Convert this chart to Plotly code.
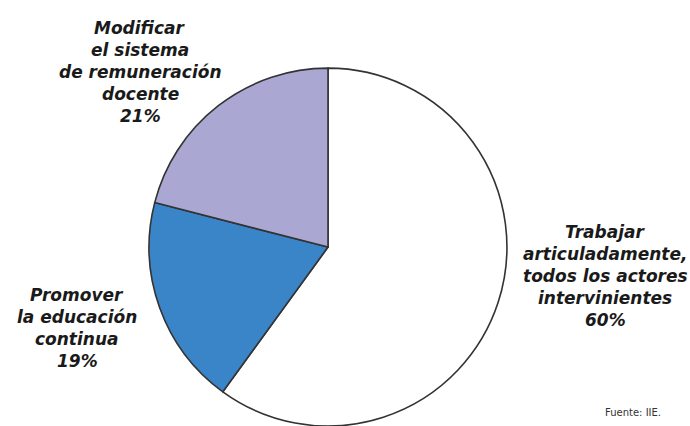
import plotly.graph_objects as go

# slice data, clockwise from 12 o'clock
labels = [
    "Trabajar articuladamente, todos los actores intervinientes",
    "Promover la educación continua",
    "Modificar el sistema de remuneración docente",
]
# how each label is broken into lines in the chart
label_lines = [
    ["Trabajar", "articuladamente,", "todos los actores", "intervinientes"],
    ["Promover", "la educación", "continua"],
    ["Modificar", "el sistema", "de remuneración", "docente"],
]
values = [60, 19, 21]
colors = ["#ffffff", "#3a84c8", "#aaa8d3"]

W, H = 690, 426

# centre x and first-line y of each label block, in pixels
label_pos = [(605, 232), (77, 295), (140, 28)]
LINE_H = 22

fig = go.Figure(
    go.Pie(
        labels=labels,
        values=values,
        sort=False,
        direction="clockwise",
        rotation=0,
        marker=dict(colors=colors, line=dict(color="#333333", width=1.6)),
        textinfo="none",
        hoverinfo="label+percent",
        showlegend=False,
        domain=dict(x=[149 / W, 507 / W], y=[0.0, 0.84]),
    )
)

for lines, val, (px, py) in zip(label_lines, values, label_pos):
    for i, line in enumerate(lines + [f"{val}%"]):
        fig.add_annotation(
            text=f"<b><i>{line}</i></b>",
            x=px / W,
            y=1 - (py + i * LINE_H) / H,
            xref="paper",
            yref="paper",
            xanchor="center",
            yanchor="middle",
            showarrow=False,
            font=dict(family="DejaVu Sans", size=17, color="#1a1a1a"),
        )

fig.add_annotation(
    text="Fuente: IIE.",
    x=633 / W,
    y=1 - 412 / H,
    xref="paper",
    yref="paper",
    xanchor="center",
    yanchor="middle",
    showarrow=False,
    font=dict(family="DejaVu Sans", size=10, color="#333333"),
)

fig.update_layout(
    width=W,
    height=H,
    autosize=False,
    margin=dict(l=0, r=0, t=0, b=0),
    paper_bgcolor="white",
    plot_bgcolor="white",
)

# drop the default body margin so the figure fills the window exactly
fig.write_html(
    "out.html",
    config={"displayModeBar": False},
    post_script="document.body.style.margin='0';document.body.style.overflow='hidden';",
)
